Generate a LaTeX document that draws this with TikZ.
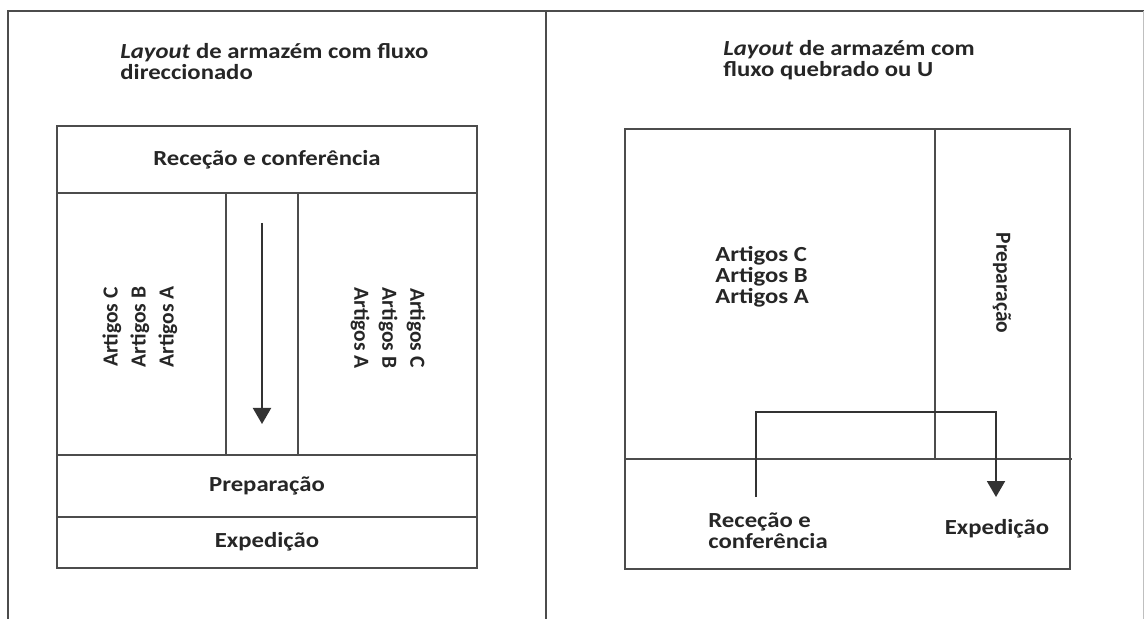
\documentclass[tikz,border=0pt]{standalone}
\usepackage{fontspec}
\setmainfont{Carlito}[FakeStretch=1.15]
\newfontfamily\rotfont{Carlito}
\usetikzlibrary{arrows.meta}

\begin{document}
\begin{tikzpicture}
	[x=0.5pt,y=-0.5pt,
	wall/.style={draw=black!70,line width=1pt},
	zone/.style={font=\bfseries\fontsize{10.75}{10.5}\selectfont,text=black!85,inner sep=0pt},
	heading/.style={zone,align=left,anchor=north west},
	sidezone/.style={font=\rotfont\bfseries\fontsize{10.75}{14}\selectfont,text=black!85,inner sep=0pt,align=center},
	flow/.style={draw=black!80,line width=1pt,-{Triangle[width=9pt,length=8pt]}}]
	\useasboundingbox (0,0) rectangle (1144,619);
	% page frame
	\draw[wall] (8,619) -- (8,11) -- (1144,11);
	\draw[wall] (546,11) -- (546,619);
	\draw[draw=black!25,line width=0.5pt] (1143,11) -- (1143,619);
	% left layout
	\node[heading] (lefttitle) at (120,43) {\textit{Layout} de armazém com fluxo\\direccionado};
	\draw[wall] (57,126) rectangle (477,568);
	\draw[wall] (57,193) -- (477,193);
	\draw[wall] (57,455) -- (477,455);
	\draw[wall] (57,517) -- (477,517);
	\draw[wall] (226,193) -- (226,455);
	\draw[wall] (298,193) -- (298,455);
	\node[zone] (receive) at (267,160) {Receção e conferência};
	\node[sidezone,rotate=90] (leftstock) at (140,327) {Artigos C\\Artigos B\\Artigos A};
	\node[sidezone,rotate=-90] (rightstock) at (388,328) {Artigos C\\Artigos B\\Artigos A};
	\node[zone] (prep) at (267,486) {Preparação};
	\node[zone] (ship) at (267,542) {Expedição};
	\coordinate (flowtop) at (262,223);
	\coordinate (flowend) at (262,424);
	\draw[flow] (flowtop) -- (flowend);
	% right layout
	\node[heading] (righttitle) at (723,40) {\textit{Layout} de armazém com\\fluxo quebrado ou U};
	\draw[wall] (625,129) rectangle (1070,569);
	\draw[wall] (625,459) -- (1072,459);
	\draw[wall] (935,129) -- (935,459);
	\node[heading,align=left] (ustock) at (715,246) {Artigos C\\Artigos B\\Artigos A};
	\node[sidezone,rotate=-90] (uprep) at (1002,283) {Preparação};
	\node[heading] (ureceive) at (708,512) {Receção e\\conferência};
	\node[zone] (uship) at (997,529) {Expedição};
	\coordinate (ustart) at (756,497);
	\coordinate (uend) at (996,497);
	\draw[flow] (ustart) -- (756,412) -| (uend);
\end{tikzpicture}
\end{document}
